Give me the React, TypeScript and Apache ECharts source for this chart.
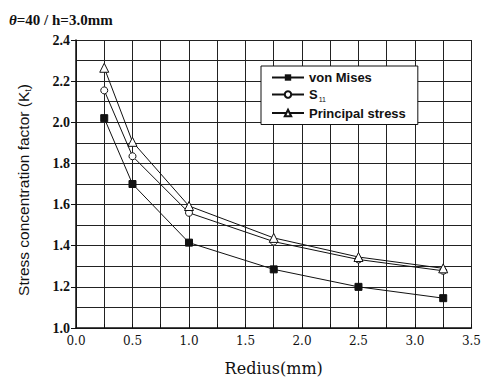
import React, { useEffect, useRef } from "react";
import * as echarts from "echarts";

const radius = [0.25, 0.5, 1.0, 1.75, 2.5, 3.25];
const vonMises = [2.02, 1.7, 1.415, 1.285, 1.2, 1.145];
const s11 = [2.155, 1.835, 1.56, 1.42, 1.333, 1.278];
const principal = [2.265, 1.905, 1.593, 1.438, 1.345, 1.29];
const seriesNames = ["von Mises", "S11", "Principal stress"];

const pairs = (ys: number[]) => radius.map((x, i) => [x, ys[i]]);

export default function App() {
  const ref = useRef<HTMLDivElement>(null);
  useEffect(() => {
    const chart = echarts.init(ref.current!, null, { renderer: "svg" });
    const gridColor = "#222";
    const lineStyle = { color: "#111", width: 1 };
    chart.setOption({
      animation: false,
      backgroundColor: "#fff",
      title: {
        text: "{t|θ}{n|=40 / h=3.0mm}",
        left: 4,
        top: 7,
        textStyle: {
          rich: {
            t: {
              fontFamily: "Liberation Serif",
              fontWeight: "bold",
              fontStyle: "italic",
              fontSize: 15,
              color: "#111",
            },
            n: {
              fontFamily: "Liberation Serif",
              fontWeight: "bold",
              fontSize: 15,
              color: "#111",
            },
          },
        },
      },
      grid: { left: 76, right: 8, top: 40, bottom: 49 },
      legend: {
        data: seriesNames,
        orient: "vertical",
        left: 261,
        top: 66,
        itemGap: 4,
        itemWidth: 32,
        itemHeight: 8,
        padding: [5, 12, 5, 10],
        backgroundColor: "#fff",
        borderColor: "#111",
        borderWidth: 1,
        formatter: (n: string) => (n === "S11" ? "{b|S}{s|11}" : "{b|" + n + "}"),
        textStyle: {
          rich: {
            b: {
              fontFamily: "Liberation Sans",
              fontWeight: "bold",
              fontSize: 13,
              color: "#111",
            },
            s: {
              fontFamily: "Liberation Sans",
              fontSize: 7,
              color: "#111",
              verticalAlign: "bottom",
              padding: [9, 0, 0, 1],
            },
          },
        },
      },
      xAxis: {
        type: "value",
        min: 0,
        max: 3.5,
        interval: 0.5,
        name: "Redius(mm)",
        nameLocation: "middle",
        nameGap: 32,
        nameTextStyle: { fontFamily: "DejaVu Serif", fontSize: 16, color: "#111" },
        axisLine: { show: true, lineStyle: { color: "#111", width: 1.5 } },
        axisTick: { show: true, inside: true, length: 4, lineStyle: { color: "#111" } },
        minorTick: { show: true, splitNumber: 2, length: 4, lineStyle: { color: "#111" } },
        axisLabel: {
          fontFamily: "DejaVu Serif",
          fontSize: 12,
          color: "#111",
          margin: 7,
          formatter: (v: number) => v.toFixed(1),
        },
        splitLine: { show: true, lineStyle: { color: gridColor, width: 1 } },
        minorSplitLine: { show: true, lineStyle: { color: gridColor, width: 1 } },
      },
      yAxis: {
        type: "value",
        min: 1.0,
        max: 2.4,
        interval: 0.2,
        name: "{n|Stress concentration factor (K}{s|t}{n|)}",
        nameLocation: "middle",
        nameGap: 44,
        nameTextStyle: {
          padding: [0, 12, 0, 0],
          rich: {
            n: { fontFamily: "Liberation Sans", fontSize: 15.5, color: "#111" },
            s: {
              fontFamily: "Liberation Sans",
              fontSize: 9,
              color: "#111",
              verticalAlign: "bottom",
              padding: [8, 0, 0, 0],
            },
          },
        },
        axisLine: { show: true, lineStyle: { color: "#111", width: 1.5 } },
        axisTick: { show: true, inside: false, length: 5, lineStyle: { color: "#111" } },
        axisLabel: {
          fontFamily: "Liberation Serif",
          fontWeight: "bold",
          fontSize: 14,
          color: "#111",
          margin: 6,
          formatter: (v: number) => v.toFixed(1),
        },
        splitLine: { show: true, lineStyle: { color: gridColor, width: 1 } },
        minorSplitLine: { show: true, lineStyle: { color: gridColor, width: 1 } },
        minorTick: { show: false, splitNumber: 2 },
      },
      series: [
        {
          name: "von Mises",
          type: "line",
          data: pairs(vonMises),
          symbol: "rect",
          symbolSize: 7,
          itemStyle: { color: "#111", borderColor: "#111" },
          lineStyle,
        },
        {
          name: "S11",
          type: "line",
          data: pairs(s11),
          symbol: "circle",
          symbolSize: 7,
          itemStyle: { color: "#fff", borderColor: "#111", borderWidth: 1 },
          lineStyle,
        },
        {
          name: "Principal stress",
          type: "line",
          data: pairs(principal),
          symbol: "triangle",
          symbolSize: 9,
          itemStyle: { color: "#fff", borderColor: "#111", borderWidth: 1 },
          lineStyle,
        },
      ],
    });
    return () => chart.dispose();
  }, []);
  return (
    <div
      ref={ref}
      style={{ position: "fixed", left: 0, top: 0, width: 484, height: 381 }}
    />
  );
}
